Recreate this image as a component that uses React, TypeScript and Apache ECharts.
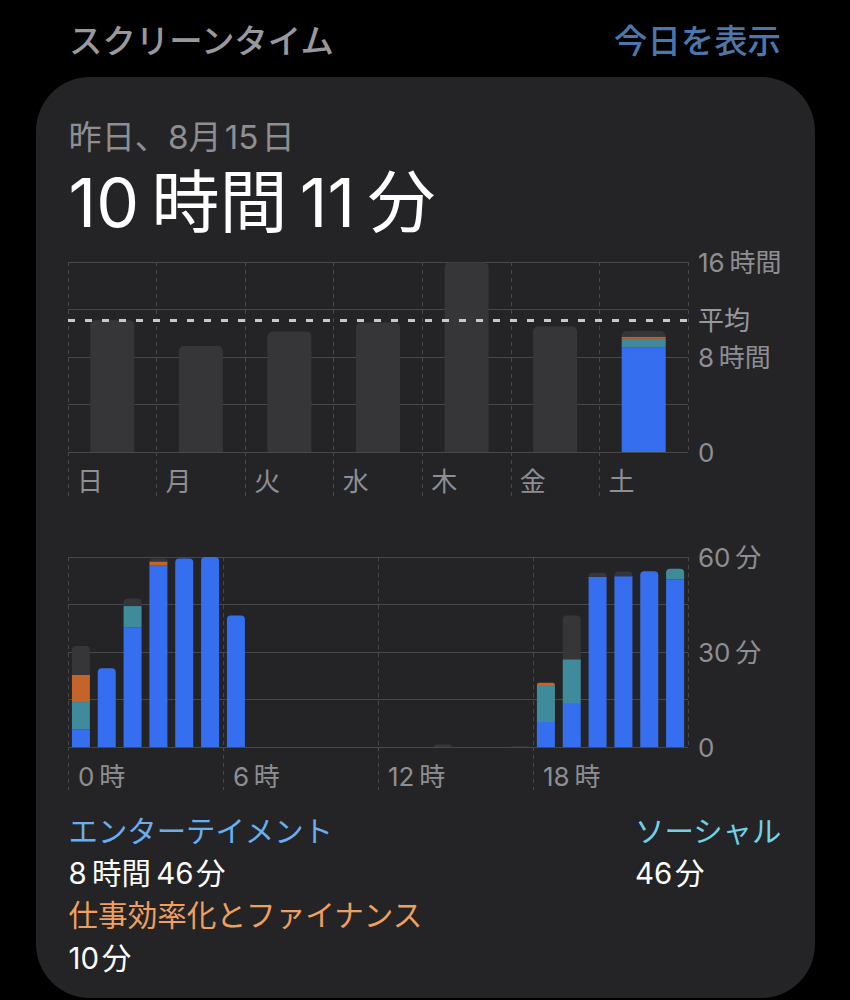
import { useEffect, useRef } from 'react'
import * as echarts from 'echarts'

const FONT = 'Inter, "Noto Sans CJK JP", sans-serif'

const DAYS = ['日', '月', '火', '水', '木', '金', '土']
const DAY_INDEX = ['0', '1', '2', '3', '4', '5', '6']
const HOUR_INDEX = Array.from({ length: 24 }, (_, i) => String(i))

// hours per day of the week
const weekEntertainment = [0, 0, 0, 0, 0, 0, 8.77]
const weekSocial = [0, 0, 0, 0, 0, 0, 0.77]
const weekProductivity = [0, 0, 0, 0, 0, 0, 0.17]
const weekOther = [11.1, 8.93, 10.15, 10.9, 15.95, 10.57, 0.47]
const WEEK_AVERAGE = 11.1

// minutes per hour of yesterday
const hourEntertainment = [5.5, 24.9, 37.8, 57.3, 59.5, 60, 41.5, 0, 0, 0, 0, 0, 0, 0, 0, 0, 0, 0, 7.9, 13.6, 53.8, 53.9, 55.5, 52.9]
const hourSocial = [8.7, 0, 6.7, 0, 0, 0, 0, 0, 0, 0, 0, 0, 0, 0, 0, 0, 0, 0, 11.7, 14.1, 0, 0, 0, 3.4]
const hourProductivity = [8.6, 0, 0, 1.3, 0, 0, 0, 0, 0, 0, 0, 0, 0, 0, 0, 0, 0, 0, 0.7, 0, 0, 0, 0, 0]
const hourOther = [9.1, 0, 2.4, 0.9, 0, 0, 0, 0, 0, 0, 0, 0, 0, 0, 0.8, 0, 0, 0.2, 0, 13.8, 1.2, 1.5, 0, 0]

const BLUE = '#356ff0'
const TEAL = '#3f8a9b'
const ORANGE = '#c4642a'
const GRAY = '#363638'
const LABEL = '#8e8e93'
const LINE = '#48484a'

// only the topmost segment of a stack gets the rounded corners
const stackData = (stacks: number[][], s: number, radius: number) =>
  stacks[s].map((value, i) => {
    const isTop = value > 0 && stacks.slice(s + 1).every((upper) => upper[i] === 0)
    return { value, itemStyle: { borderRadius: isTop ? [radius, radius, 0, 0] : 0 } }
  })

const stackedSeries = (stacks: number[][], axis: number, barWidth: number, radius: number, stack: string) =>
  stacks.map((_, s) => ({
    name: ['エンターテイメント', 'ソーシャル', '仕事効率化とファイナンス', 'その他'][s],
    type: 'bar' as const,
    stack,
    xAxisIndex: axis,
    yAxisIndex: axis,
    barWidth,
    color: [BLUE, TEAL, ORANGE, GRAY][s],
    data: stackData(stacks, s, radius),
  }))

const label = (text: string, x: number, y: number, size: number, fill: string, extra = {}) => ({
  type: 'text' as const,
  x,
  y,
  z: 5,
  silent: true,
  style: { text, fontSize: size, fill, fontFamily: FONT, verticalAlign: 'middle', ...extra },
})

const valueAxisLabels = { color: LABEL, fontSize: 26, fontFamily: FONT, margin: 10 }

const dashedAxis = (gridIndex: number, max: number, interval: number, tickLength: number, padLeft: number, formatter: (v: number) => string) => ({
  type: 'value' as const,
  gridIndex,
  position: 'bottom' as const,
  min: 0,
  max,
  interval,
  axisLine: { show: false },
  axisTick: { show: true, length: tickLength, lineStyle: { color: LINE, type: [4, 4] as number[], width: 1 } },
  splitLine: { show: true, lineStyle: { color: LINE, type: [4, 4] as number[], width: 1 } },
  axisLabel: {
    color: LABEL,
    fontSize: 26,
    fontFamily: FONT,
    margin: 16,
    align: 'left' as const,
    verticalAlign: 'top' as const,
    padding: [0, 0, 0, padLeft],
    showMaxLabel: false,
    formatter,
  },
})

export default function App() {
  const chartRef = useRef<HTMLDivElement>(null)

  useEffect(() => {
    if (!chartRef.current) return
    document.body.style.margin = '0'

    const chart = echarts.init(chartRef.current, undefined, { renderer: 'svg' })

    const week = stackedSeries([weekEntertainment, weekSocial, weekProductivity, weekOther], 0, 44, 5, 'week')
    const hours = stackedSeries([hourEntertainment, hourSocial, hourProductivity, hourOther], 1, 18, 4, 'hour')

    const option: echarts.EChartsOption = {
      animation: false,
      backgroundColor: '#000000',
      grid: [
        { left: 68, top: 262, width: 620, height: 190 },
        { left: 68, top: 557, width: 620, height: 190 },
      ],
      xAxis: [
        { type: 'category', gridIndex: 0, data: DAY_INDEX, show: false },
        { type: 'category', gridIndex: 1, data: HOUR_INDEX, show: false },
        dashedAxis(0, 7, 1, 44, 9, (v) => DAYS[v] ?? ''),
        dashedAxis(1, 24, 6, 43, 10, (v) => `${v}\u2009時`),
      ],
      yAxis: [
        {
          type: 'value',
          gridIndex: 0,
          position: 'right',
          min: 0,
          max: 16,
          interval: 4,
          axisLine: { show: false },
          axisTick: { show: false },
          splitLine: { lineStyle: { color: LINE, width: 1 } },
          axisLabel: {
            ...valueAxisLabels,
            formatter: (v: number) => (v === 16 ? '16\u2009時間' : v === 8 ? '8\u2009時間' : v === 0 ? '0' : ''),
          },
        },
        {
          type: 'value',
          gridIndex: 1,
          position: 'right',
          min: 0,
          max: 60,
          interval: 15,
          axisLine: { show: false },
          axisTick: { show: false },
          splitLine: { lineStyle: { color: LINE, width: 1 } },
          axisLabel: {
            ...valueAxisLabels,
            formatter: (v: number) => (v === 60 ? '60\u2009分' : v === 30 ? '30\u2009分' : v === 0 ? '0' : ''),
          },
        },
      ],
      series: [
        {
          ...week[0],
          markLine: {
            silent: true,
            symbol: 'none',
            z: 10,
            lineStyle: { color: '#c9c9cb', type: [7, 10], width: 3 },
            label: { position: 'end', distance: 10, formatter: '平均', color: '#98989d', fontSize: 26, fontFamily: FONT },
            data: [{ yAxis: WEEK_AVERAGE }],
          },
        },
        week[1],
        week[2],
        week[3],
        ...hours,
      ],
      graphic: [
        {
          type: 'rect',
          z: -1,
          silent: true,
          shape: { x: 36, y: 77, width: 779, height: 921, r: 54 },
          style: { fill: '#242426' },
        },
        label('スクリーンタイム', 69, 41, 33.4, '#98989d', { fontWeight: 500 }),
        label('今日を表示', 781, 41, 33.4, '#4a78ad', { align: 'right', fontWeight: 500 }),
        label('昨日、8月\u200a15\u200a日', 68.5, 137, 33.2, LABEL),
        label('10\u2009時間\u200911\u2009分', 68.5, 202, 68, '#ffffff'),
        label('エンターテイメント', 68.5, 831, 29.4, '#69aef0'),
        label('8\u2009時間\u200946\u200a分', 68.5, 873, 29.4, '#ffffff'),
        label('仕事効率化とファイナンス', 68.5, 915, 29.6, '#f0a05e'),
        label('10\u200a分', 68.5, 958, 29.4, '#ffffff'),
        label('ソーシャル', 635, 831, 29.4, '#6fd3e8'),
        label('46\u200a分', 635, 873, 29.4, '#ffffff'),
      ],
    }

    chart.setOption(option)

    return () => {
      chart.dispose()
    }
  }, [])

  return <div ref={chartRef} style={{ width: '850px', height: '1000px' }} />
}
